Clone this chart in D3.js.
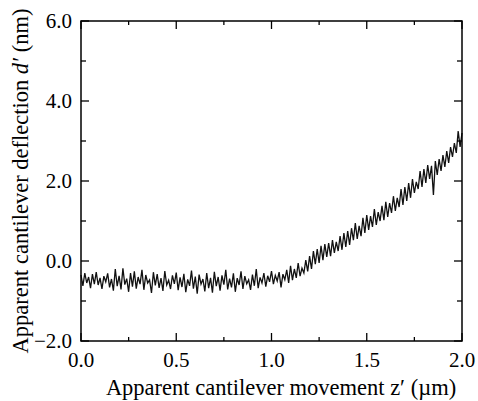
<!DOCTYPE html>
<html>
<head>
<meta charset="utf-8">
<script src="https://cdn.jsdelivr.net/npm/d3@7"></script>
<style>
  body { margin: 0; background: #fff; }
  svg { display: block; }
</style>
</head>
<body>
<svg width="478" height="401"></svg>
<script>
// apparent deflection d' (nm), one value every 0.01 um of z' from 0.00 to 2.00
var zStart = 0, zStep = 0.01;
var deflection = [
  -0.35,-0.62,-0.30,-0.55,-0.40,-0.68,-0.33,-0.58,-0.28,-0.60,
  -0.42,-0.70,-0.38,-0.52,-0.31,-0.66,-0.45,-0.74,-0.20,-0.63,
  -0.37,-0.71,-0.18,-0.59,-0.44,-0.77,-0.30,-0.64,-0.26,-0.69,
  -0.40,-0.58,-0.22,-0.72,-0.35,-0.55,-0.47,-0.80,-0.28,-0.61,
  -0.33,-0.67,-0.43,-0.75,-0.25,-0.60,-0.48,-0.70,-0.36,-0.57,
  -0.29,-0.73,-0.41,-0.65,-0.32,-0.78,-0.46,-0.62,-0.24,-0.69,
  -0.39,-0.82,-0.34,-0.58,-0.45,-0.76,-0.30,-0.68,-0.42,-0.79,
  -0.27,-0.63,-0.40,-0.74,-0.36,-0.59,-0.22,-0.71,-0.44,-0.66,
  -0.31,-0.77,-0.43,-0.60,-0.26,-0.70,-0.38,-0.57,-0.47,-0.72,
  -0.34,-0.62,-0.20,-0.68,-0.41,-0.55,-0.30,-0.64,-0.37,-0.52,
  -0.25,-0.58,-0.36,-0.50,-0.28,-0.66,-0.33,-0.47,-0.22,-0.55,
  -0.12,-0.48,-0.20,-0.42,-0.05,-0.38,-0.18,-0.30, 0.02,-0.26,
   0.12,-0.20, 0.25,-0.08, 0.30,-0.05, 0.38, 0.02, 0.42, 0.10,
   0.45, 0.12, 0.52, 0.20, 0.48, 0.25, 0.62, 0.28, 0.70, 0.35,
   0.75, 0.40, 0.82, 0.52, 0.95, 0.55, 0.88, 0.62, 1.08, 0.70,
   1.15, 0.78, 1.12, 0.85, 1.30, 0.90, 1.22, 1.00, 1.38, 1.02,
   1.48, 1.10, 1.45, 1.20, 1.62, 1.25, 1.58, 1.35, 1.80, 1.40,
   1.85, 1.50, 1.95, 1.58, 2.05, 1.70, 1.98, 1.80, 2.25, 1.85,
   2.30, 1.95, 2.40, 2.05, 2.38, 1.65, 2.50, 2.15, 2.55, 2.25,
   2.65, 2.35, 2.75, 2.45, 2.85, 2.60, 2.95, 2.70, 3.25, 2.85,
   3.20
];
var xTicks = [0, 0.5, 1.0, 1.5, 2.0];
var xMinor = [0.25, 0.75, 1.25, 1.75];
var yTicks = [-2, 0, 2, 4, 6];
var yMinor = [-1, 1, 3, 5];

var svg = d3.select("svg"),
    margin = {top: 21, right: 16, bottom: 60, left: 81},
    width = +svg.attr("width") - margin.left - margin.right,
    height = +svg.attr("height") - margin.top - margin.bottom;

var x = d3.scaleLinear().domain([0, 2]).range([0, width]);
var y = d3.scaleLinear().domain([-2, 6]).range([height, 0]);

var g = svg.append("g").attr("transform", "translate(" + margin.left + "," + margin.top + ")");

var pts = deflection.map(function(d, i) { return [zStart + i * zStep, d]; });

var line = d3.line()
    .x(function(d) { return x(d[0]); })
    .y(function(d) { return y(d[1]); });

g.append("path")
    .datum(pts)
    .attr("fill", "none")
    .attr("stroke", "#111")
    .attr("stroke-width", 1.3)
    .attr("d", line);

// frame
g.append("rect")
    .attr("width", width).attr("height", height)
    .attr("fill", "none").attr("stroke", "#000").attr("stroke-width", 1.5);

var fmt = d3.format(".1f");
var font = "'Liberation Serif', 'Times New Roman', serif";

// inward ticks on all four sides
var ax = g.append("g").attr("stroke", "#000").attr("stroke-width", 1.3);
var xAll = xTicks.concat(xMinor), yAll = yTicks.concat(yMinor);
function xLen(d) { return xTicks.indexOf(d) >= 0 ? 8 : 4; }
function yLen(d) { return yTicks.indexOf(d) >= 0 ? 8 : 5; }

ax.selectAll(".xb").data(xAll).enter().append("line")
    .attr("x1", x).attr("x2", x)
    .attr("y1", height).attr("y2", function(d) { return height - xLen(d); });
ax.selectAll(".xt").data(xAll).enter().append("line")
    .attr("x1", x).attr("x2", x)
    .attr("y1", 0).attr("y2", xLen);
ax.selectAll(".yl").data(yAll).enter().append("line")
    .attr("y1", y).attr("y2", y)
    .attr("x1", 0).attr("x2", yLen);
ax.selectAll(".yr").data(yAll).enter().append("line")
    .attr("y1", y).attr("y2", y)
    .attr("x1", width).attr("x2", function(d) { return width - yLen(d); });

// tick labels
g.selectAll(".xlab").data(xTicks).enter().append("text")
    .attr("x", function(d) { return x(d); })
    .attr("y", height + 26)
    .attr("text-anchor", "middle")
    .style("font-family", font).style("font-size", "21px")
    .text(fmt);

g.selectAll(".ylab").data(yTicks).enter().append("text")
    .attr("x", -9)
    .attr("y", function(d) { return y(d); })
    .attr("dy", "0.35em")
    .attr("text-anchor", "end")
    .style("font-family", font).style("font-size", "21px")
    .text(fmt);

// axis titles
svg.append("text")
    .attr("x", 281)
    .attr("y", 395)
    .attr("text-anchor", "middle")
    .style("font-family", font).style("font-size", "22.5px")
    .text("Apparent cantilever movement z\u2032 (\u00b5m)");

var yt = svg.append("text")
    .attr("transform", "translate(28," + (margin.top + height / 2) + ") rotate(-90)")
    .attr("text-anchor", "middle")
    .style("font-family", font).style("font-size", "22.5px");
yt.append("tspan").text("Apparent cantilever deflection ");
yt.append("tspan").style("font-style", "italic").text("d\u2032");
yt.append("tspan").text(" (nm)");
</script>
</body>
</html>
